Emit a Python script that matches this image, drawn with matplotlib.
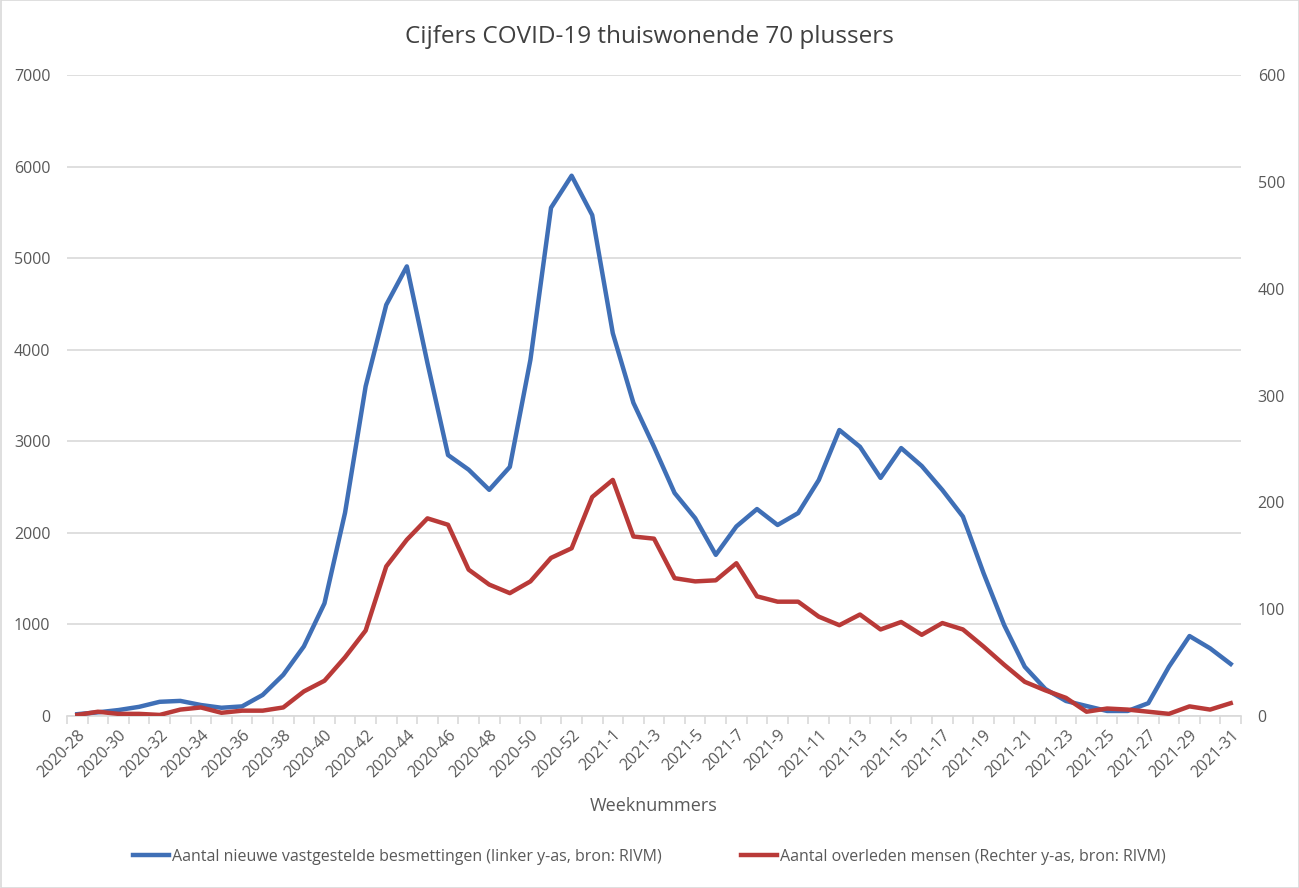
import matplotlib
matplotlib.use("Agg")
import matplotlib.pyplot as plt
from matplotlib.patches import Rectangle
import numpy as np

weeks = [f"2020-{w}" for w in range(28, 54)] + [f"2021-{w}" for w in range(1, 32)]

besmettingen = [20, 40, 65, 100, 155, 165, 120, 90, 105, 230,
                450, 760, 1230, 2220, 3600, 4490, 4910, 3855, 2850, 2690,
                2470, 2720, 3890, 5550, 5900, 5470, 4180, 3420, 2940, 2435,
                2160, 1760, 2070, 2260, 2086, 2216, 2577, 3123, 2940, 2600,
                2926, 2730, 2468, 2177, 1560, 993, 538, 295, 164, 109,
                55, 55, 140, 538, 873, 739, 568]

overleden = [1, 4, 2, 2, 1, 6, 8, 3, 5, 5,
             8, 23, 33, 55, 80, 140, 165, 185, 179, 137,
             123, 115, 126, 148, 157, 205, 221, 168, 166, 129,
             126, 127, 143, 112, 107, 107, 93, 85, 95, 81,
             88, 76, 87, 81, 65, 48, 32, 24, 17, 4,
             7, 6, 4, 2, 9, 6, 12]

blue = "#3F6FB6"
red = "#B93A38"
grey_txt = "#595959"

plt.rcParams['font.family'] = ['Open Sans', 'DejaVu Sans']

fig = plt.figure(figsize=(12.99, 8.88), dpi=100)
ax = fig.add_axes([67/1299, 1-716/888, (1241-67)/1299, (716-75)/888])
ax2 = ax.twinx()

x = np.arange(len(weeks))
ax.plot(x, besmettingen, color=blue, lw=3.2, solid_joinstyle='round', label="Aantal nieuwe vastgestelde besmettingen (linker y-as, bron: RIVM)", zorder=3)
ax2.plot(x, overleden, color=red, lw=3.2, solid_joinstyle='round', label="Aantal overleden mensen (Rechter y-as, bron: RIVM)", zorder=3)

ax.set_xlim(-0.5, len(weeks)-0.5)
ax.set_ylim(0, 7000)
ax2.set_ylim(0, 600)
ax.set_yticks(range(0, 7001, 1000))
ax2.set_yticks(range(0, 601, 100))
ax.yaxis.grid(True, color="#D9D9D9", lw=1.2)
ax.set_axisbelow(True)

for a in (ax, ax2):
    for s in ("top", "left", "right"):
        a.spines[s].set_visible(False)
ax2.spines["bottom"].set_visible(False)
ax.spines["bottom"].set_color("#D9D9D9")
ax.spines["bottom"].set_linewidth(1.2)

ax.tick_params(axis='y', length=0, labelsize=11.5, labelcolor=grey_txt, pad=12)
ax2.tick_params(axis='y', length=0, labelsize=11.5, labelcolor=grey_txt, pad=12)

ax.set_xticks(x[::2])
ax.set_xticklabels(weeks[::2], rotation=45, ha='right', rotation_mode='anchor')
ax.tick_params(axis='x', which='major', length=0, labelsize=11.5, labelcolor=grey_txt, pad=8)
ax.set_xticks(np.arange(-0.5, len(weeks), 1.0), minor=True)
ax.tick_params(axis='x', which='minor', length=6, color="#D9D9D9", width=1.2)

ax.set_xlabel("Weeknummers", fontsize=13, color=grey_txt, labelpad=12)

fig.text(0.5, 1-37/888, "Cijfers COVID-19 thuiswonende 70 plussers", ha='center', va='center',
         fontsize=17.5, color="#404040")

h1, l1 = ax.get_legend_handles_labels()
h2, l2 = ax2.get_legend_handles_labels()
fig.legend(h1 + h2, l1 + l2, loc='center', bbox_to_anchor=(0.5, 1-857/888), ncol=2,
           frameon=False, fontsize=11.5, labelcolor=grey_txt, handlelength=2.2,
           handletextpad=0.2, columnspacing=5)

fig.patches.append(Rectangle((0.5/1299, 0.5/888), 1-1/1299, 1-1/888, transform=fig.transFigure,
                             fill=False, edgecolor="#D9D9D9", lw=1.2))

fig.savefig("out.png", dpi=100)
